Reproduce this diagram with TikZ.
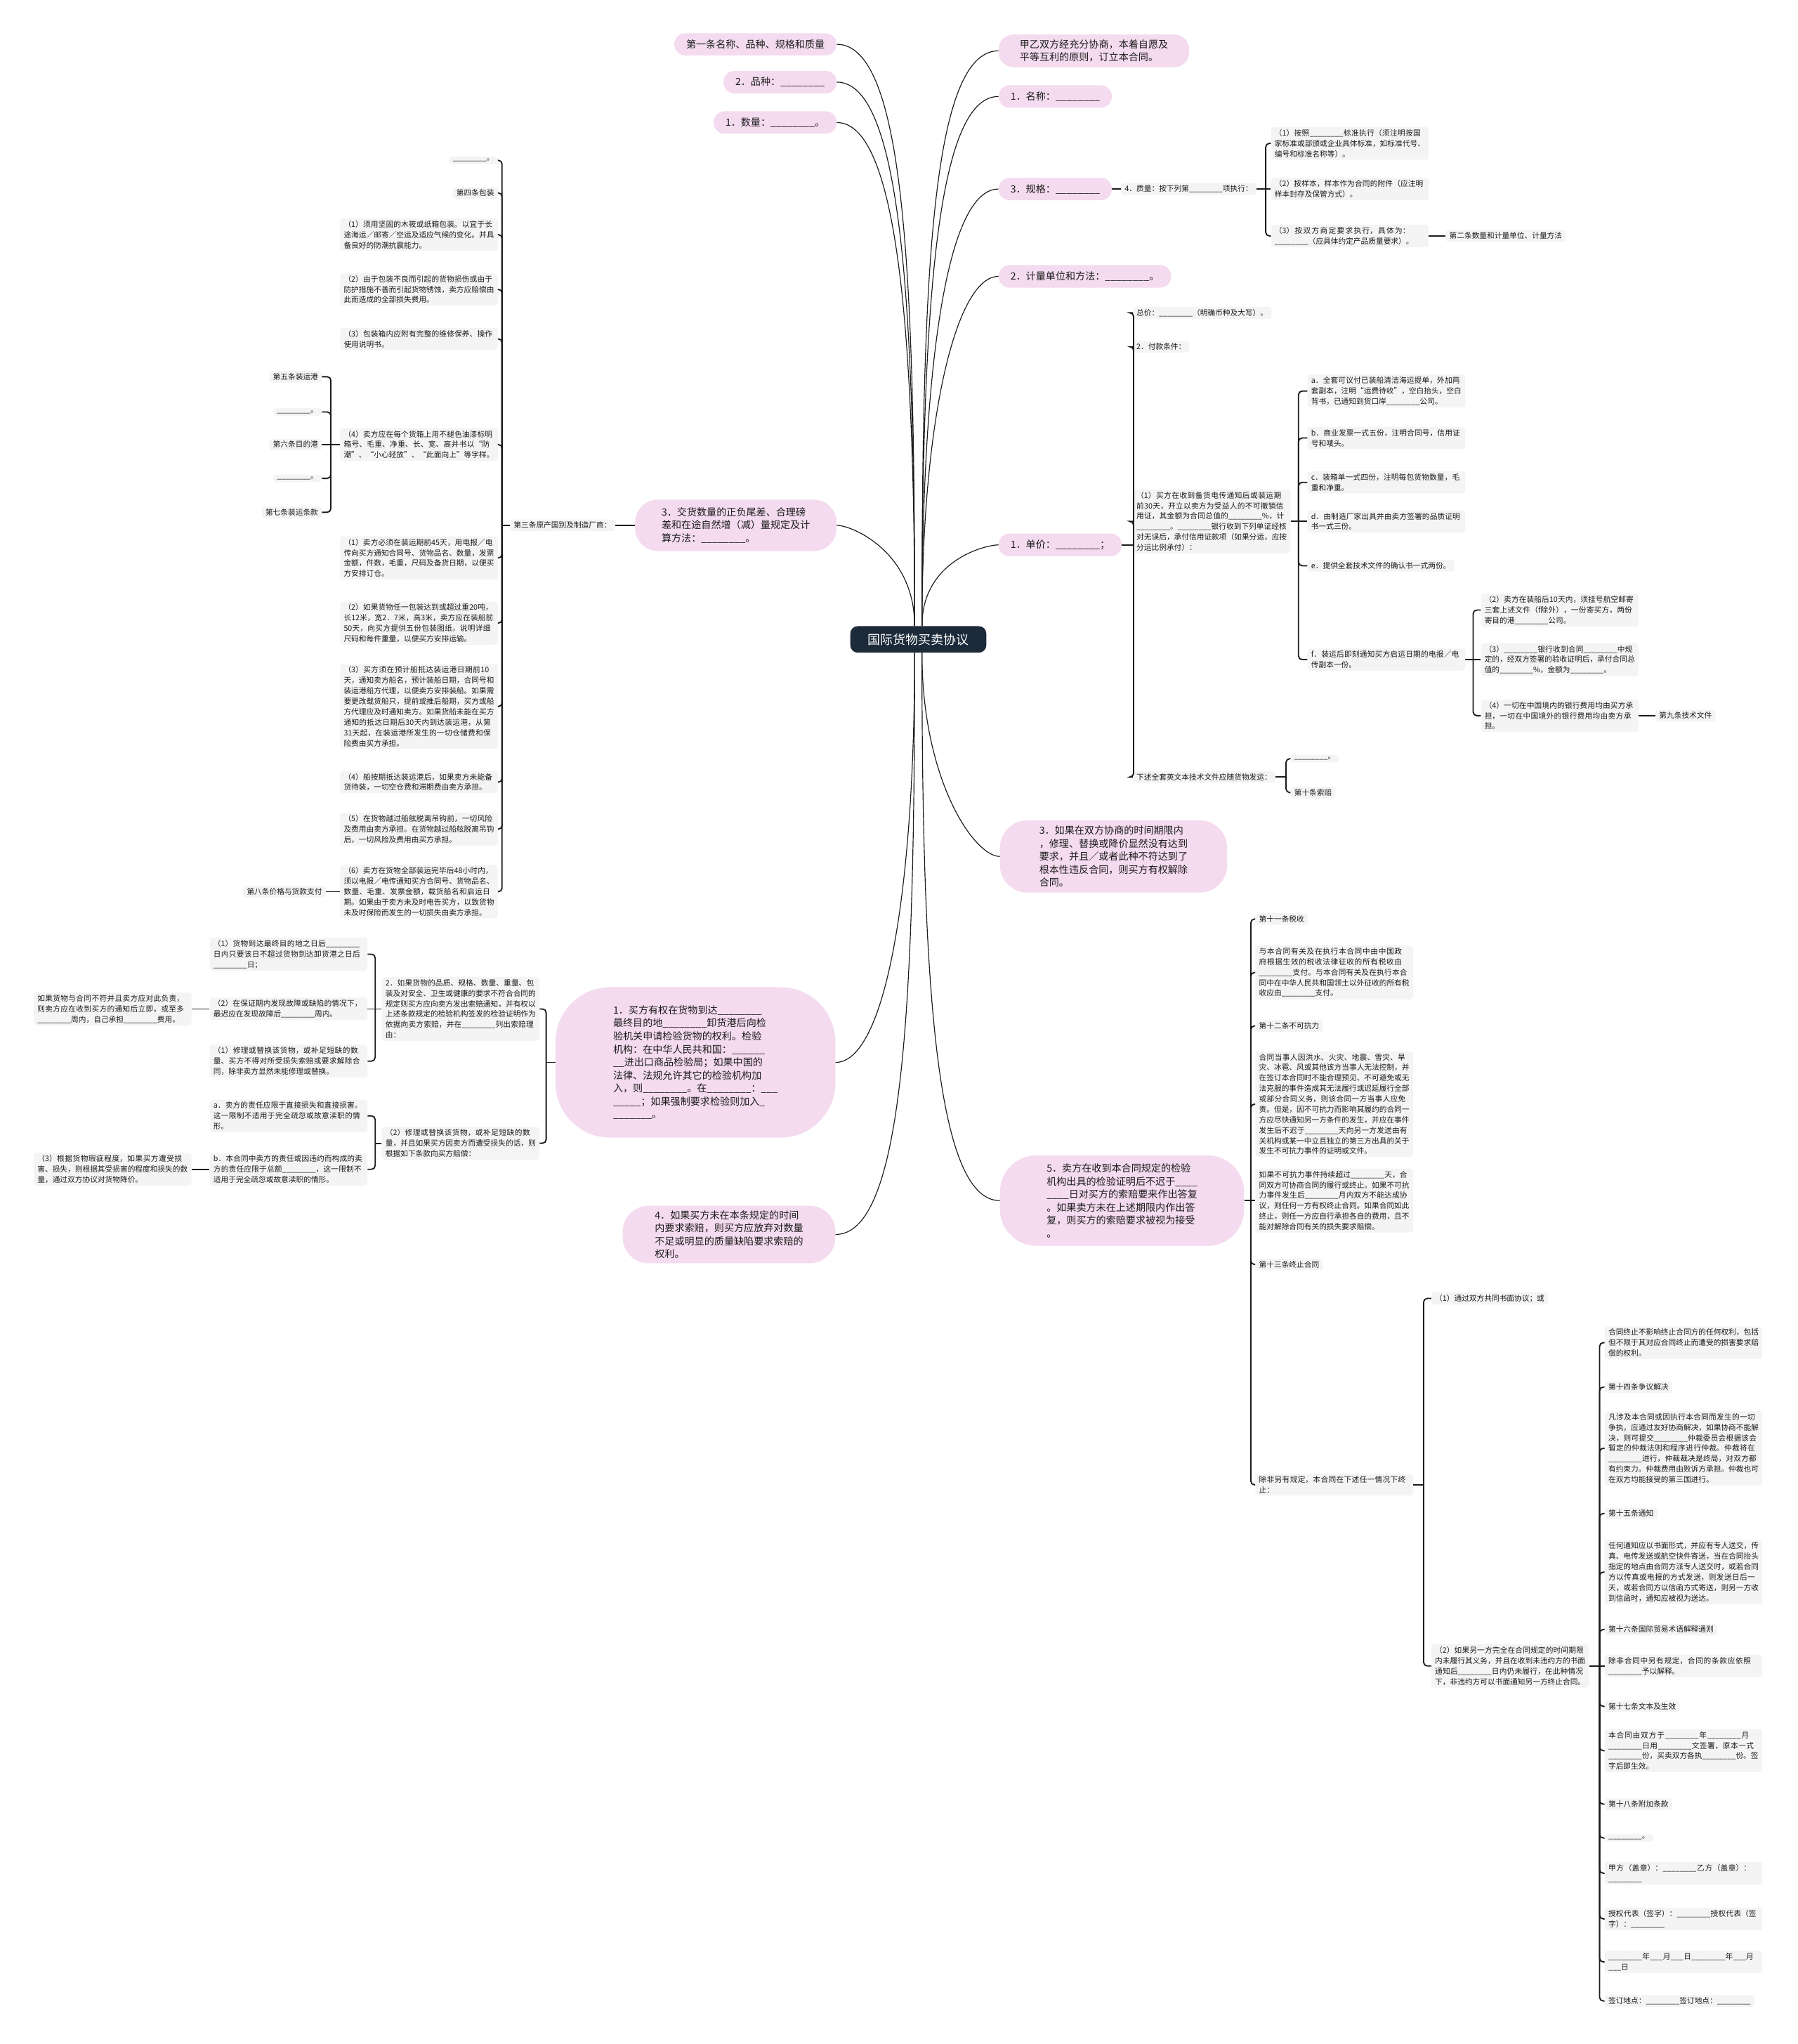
\documentclass[tikz,border=0pt]{standalone}
\usepackage{fontspec}
\setmainfont{Noto Sans CJK SC}
\usepackage{xcolor}
\usepackage{tikz}
\XeTeXlinebreaklocale "zh"
\XeTeXlinebreakskip=0pt plus 1pt
\definecolor{MapInk}{HTML}{1B1B1B}
\definecolor{RootFill}{HTML}{1C2A3A}
\definecolor{TopicFill}{HTML}{F4DBEF}
\definecolor{LeafFill}{HTML}{F4F4F4}
\newcommand{\blank}{\_\_\_\_\_\_\_\_}
\newcommand{\halfblank}{\_\_\_\_}
\tikzset{
  mapscale/.style={x=0.05cm,y=-0.05cm},
  rootbox/.style={fill=RootFill,text=white,rounded corners=8pt,inner xsep=19pt,inner ysep=8pt,
    font=\fontsize{13.8}{16}\selectfont},
  topic/.style={fill=TopicFill,text=MapInk,rounded corners=12pt,inner xsep=13pt,inner ysep=7pt,
    align=left,font=\fontsize{10.8}{14.2}\selectfont},
  leaf/.style={fill=LeafFill,text=MapInk,rounded corners=3pt,inner xsep=4pt,inner ysep=2.5pt,
    align=left,font=\fontsize{8.2}{11.4}\selectfont},
  leafwide/.style={leaf,text width=164pt},
  stem/.style={draw=MapInk,line width=0.9pt},
  upleft/.style={out=90,in=0,out looseness=1.5,in looseness=0.3},
  upright/.style={out=90,in=180,out looseness=1.5,in looseness=0.3},
  downleft/.style={out=-90,in=0,out looseness=1.5,in looseness=0.3},
  downright/.style={out=-90,in=180,out looseness=1.5,in looseness=0.3},
  fork/.style={draw=MapInk,line width=1.4pt,rounded corners=4pt},
}

\begin{document}
\begin{tikzpicture}[mapscale]
  \fill[white] (0,0) rectangle (1379,1568);
  \useasboundingbox (0,0) rectangle (1379,1568);

  \node[rootbox] (root) at (704.5,490.5) {国际货物买卖协议};

  % main topics, left
  \node[topic,anchor=east] (art1) at (642,34) {第一条名称、品种、规格和质量};
  \node[topic,anchor=east] (variety) at (642,63) {2．品种：\blank};
  \node[topic,anchor=east] (amount) at (642,94) {1．数量：\blank。};
  \node[topic,anchor=east,inner xsep=29pt,inner ysep=8.5pt,rounded corners=25pt] (tolerance) at (642,403)
    {3．交货数量的正负尾差、合理磅\\差和在途自然增（减）量规定及计\\算方法：\blank。};
  \node[topic,anchor=east,inner xsep=63pt,inner ysep=20pt,rounded corners=60pt] (inspect) at (641,815)
    {1．买方有权在货物到达\blank\\最终目的地\blank 卸货港后向检\\验机关申请检验货物的权利。检验\\
     机构：在中华人民共和国：\halfblank\_\_\\\_\_进出口商品检验局；如果中国的\\法律、法规允许其它的检验机构加\\
     入，则\blank。在\blank：\_\_\_\\\_\_\_\_\_；如果强制要求检验则加入\_\\\_\_\_\_\_\_\_。};
  \node[topic,anchor=east,inner xsep=35pt,inner ysep=5pt,rounded corners=28pt] (waive) at (641,947)
    {4．如果买方未在本条规定的时间\\内要求索赔，则买方应放弃对数量\\不足或明显的质量缺陷要求索赔的\\权利。};

  % main topics, right
  \node[topic,anchor=west,inner xsep=23pt,inner ysep=5.5pt,rounded corners=16pt] (preface) at (766,39)
    {甲乙双方经充分协商，本着自愿及\\平等互利的原则，订立本合同。};
  \node[topic,anchor=west] (name) at (766,74) {1．名称：\blank};
  \node[topic,anchor=west] (spec) at (766,145) {3．规格：\blank};
  \node[topic,anchor=west] (measure) at (766,212) {2．计量单位和方法：\blank。};
  \node[topic,anchor=west] (price) at (766,418) {1．单价：\blank；};
  \node[topic,anchor=west,inner xsep=43pt,inner ysep=6pt,rounded corners=30pt] (cancel) at (767,657)
    {3．如果在双方协商的时间期限内\\，修理、替换或降价显然没有达到\\要求，并且／或者此种不符达到了\\根本性违反合同，则买方有权解除\\合同。};
  \node[topic,anchor=west,inner xsep=51pt,inner ysep=9pt,rounded corners=40pt] (reply) at (767,921)
    {5．卖方在收到本合同规定的检验\\机构出具的检验证明后不迟于\halfblank\\\halfblank 日对买方的索赔要来作出答复\\
     。如果卖方未在上述期限内作出答\\复，则买方的索赔要求被视为接受\\。};

  \draw[stem] ([xshift=-4pt]root.north) to[upleft] (art1.east);
  \draw[stem] ([xshift=-4pt]root.north) to[upleft] (variety.east);
  \draw[stem] ([xshift=-4pt]root.north) to[upleft] (amount.east);
  \draw[stem] ([xshift=-4pt]root.north) to[upleft] (tolerance.east);
  \draw[stem] ([xshift=4pt]root.north) to[upright] (preface.west);
  \draw[stem] ([xshift=4pt]root.north) to[upright] (name.west);
  \draw[stem] ([xshift=4pt]root.north) to[upright] (spec.west);
  \draw[stem] ([xshift=4pt]root.north) to[upright] (measure.west);
  \draw[stem] ([xshift=4pt]root.north) to[upright] (price.west);
  \draw[stem] ([xshift=4pt]root.south) to[downright] (cancel.west);
  \draw[stem] ([xshift=4pt]root.south) to[downright] (reply.west);
  \draw[stem] ([xshift=-4pt]root.south) to[downleft] (inspect.east);
  \draw[stem] ([xshift=-4pt]root.south) to[downleft] (waive.east);

  % quality
  \node[leaf,anchor=west] (quality) at (860,145) {4．质量：按下列第\blank 项执行：};
  \node[leafwide,anchor=west] (q1) at (975,110) {（1）按照\blank 标准执行（须注明按国家标准或部颁或企业具体标准，如标准代号、编号和标准名称等）。};
  \node[leafwide,anchor=west] (q2) at (975,145) {（2）按样本，样本作为合同的附件（应注明样本封存及保管方式）。};
  \node[leafwide,anchor=west] (q3) at (975,181) {（3）按双方商定要求执行，具体为：\blank（应具体约定产品质量要求）。};
  \node[leaf,anchor=west] (art2) at (1109,181) {第二条数量和计量单位、计量方法};
  \draw[fork] (spec.east) -- (quality.west);
  \draw[fork] (quality.east) -- ++(7,0) coordinate (sQ);
  \foreach \c in {q1,q3} \draw[fork] (sQ) |- (\c.west);
  \draw[fork] (sQ) -- (q2.west);
  \draw[fork] (q3.east) -- (art2.west);

  % origin, packing, shipment
  \node[leaf,anchor=east] (art3) at (472,403) {第三条原产国别及制造厂商：};
  \draw[fork] (tolerance.west) -- (art3.east);
  \node[leaf,anchor=east] (pk0) at (382,123) {\blank。};
  \node[leaf,anchor=east] (pk1) at (382,148) {第四条包装};
  \node[leafwide,anchor=east] (pk2) at (382,180) {（1）须用坚固的木筱或纸箱包装。以宜于长途海运／邮寄／空运及适应气候的变化。并具备良好的防潮抗震能力。};
  \node[leafwide,anchor=east] (pk3) at (382,222) {（2）由于包装不良而引起的货物损伤或由于防护措施不善而引起货物锈蚀，卖方应赔偿由此而造成的全部损失费用。};
  \node[leafwide,anchor=east] (pk4) at (382,260) {（3）包装箱内应附有完整的维修保养、操作使用说明书。};
  \node[leafwide,anchor=east] (pk5) at (382,341) {（4）卖方应在每个货箱上用不褪色油漆标明箱号、毛重、净重、长、宽、高并书以“防潮”、“小心轻放”、“此面向上”等字样。};
  \node[leafwide,anchor=east] (sh1) at (382,428) {（1）卖方必须在装运期前45天，用电报／电传向买方通知合同号、货物品名、数量，发票金额，件数，毛重，尺码及备货日期，以便买方安排订仓。};
  \node[leafwide,anchor=east] (sh2) at (382,478) {（2）如果货物任一包装达到或超过重20吨，长12米，宽2．7米，高3米，卖方应在装船前50天，向买方提供五份包装图纸，说明详细尺码和每件重量，以便买方安排运输。};
  \node[leafwide,anchor=east] (sh3) at (382,542) {（3）买方须在预计船抵达装运港日期前10天，通知卖方船名，预计装船日期，合同号和装运港船方代理，以便卖方安排装船。如果需要更改载货船只，提前或推后船期，买方或船方代理应及时通知卖方。如果货船未能在买方通知的抵达日期后30天内到达装运港，从第31天起，在装运港所发生的一切仓储费和保险费由买方承担。};
  \node[leafwide,anchor=east] (sh4) at (382,600) {（4）船按期抵达装运港后，如果卖方未能备货待装，一切空仓费和滞期费由卖方承担。};
  \node[leafwide,anchor=east] (sh5) at (382,636) {（5）在货物越过船舷脱离吊钩前，一切风险及费用由卖方承担。在货物越过船舷脱离吊钩后，一切风险及费用由买方承担。};
  \node[leafwide,anchor=east] (sh6) at (382,684) {（6）卖方在货物全部装运完毕后48小时内，须以电报／电传通知买方合同号、货物品名、数量、毛重、发票金额，载货船名和启运日期。如果由于卖方未及时电告买方，以致货物未及时保险而发生的一切损失由卖方承担。};
  \draw[fork] (art3.west) -- ++(-6,0) coordinate (sA);
  \foreach \c in {pk0,pk1,pk2,pk3,pk4,pk5,sh1,sh2,sh3,sh4,sh5,sh6} \draw[fork] (sA) |- (\c.east);

  \node[leaf,anchor=east] (port0) at (247,289) {第五条装运港};
  \node[leaf,anchor=east] (port1) at (247,316) {\blank。};
  \node[leaf,anchor=east] (port2) at (247,341) {第六条目的港};
  \node[leaf,anchor=east] (port3) at (247,367) {\blank。};
  \node[leaf,anchor=east] (port4) at (247,393) {第七条装运条款};
  \draw[fork] (pk5.west) -- ++(-7,0) coordinate (sB);
  \foreach \c in {port0,port1,port3,port4} \draw[fork] (sB) |- (\c.east);
  \draw[fork] (sB) -- (port2.east);
  \node[leaf,anchor=east] (art8) at (250,684) {第八条价格与货款支付};
  \draw[fork] (sh6.west) -- (art8.east);

  % claims
  \node[leafwide,anchor=east] (claim) at (414,774) {2．如果货物的品质、规格、数量、重量、包装及对安全、卫生或健康的要求不符合合同的规定则买方应向卖方发出索赔通知，并有权以上述条款规定的检验机构签发的检验证明作为依据向卖方索赔，并在\blank 列出索赔理由：};
  \node[leafwide,anchor=east] (remedy) at (414,877) {（2）修理或替换该货物，或补足短缺的数量，并且如果买方因卖方而遭受损失的话，则根据如下条款向买方赔偿：};
  \draw[fork] (inspect.west) -- ++(-7,0) coordinate (sC);
  \foreach \c in {claim,remedy} \draw[fork] (sC) |- (\c.east);
  \node[leafwide,anchor=east] (cl1) at (282,732) {（1）货物到达最终目的地之日后\blank 日内只要该日不超过货物到达卸货港之日后\blank 日；};
  \node[leafwide,anchor=east] (cl2) at (282,774) {（2）在保证期内发现故障或缺陷的情况下，最迟应在发现故障后\blank 周内。};
  \node[leafwide,anchor=east] (cl3) at (282,814) {（1）修理或替换该货物，或补足短缺的数量、买方不得对所受损失索赔或要求解除合同，除非卖方显然未能修理或替换。};
  \draw[fork] (claim.west) -- ++(-5,0) coordinate (sD);
  \foreach \c in {cl1,cl3} \draw[fork] (sD) |- (\c.east);
  \draw[fork] (sD) -- (cl2.east);
  \node[leafwide,anchor=east] (duty) at (147,774) {如果货物与合同不符并且卖方应对此负责，则卖方应在收到买方的通知后立即，或至多\blank 周内，自己承担\blank 费用。};
  \draw[fork] (cl2.west) -- (duty.east);
  \node[leafwide,anchor=east] (lim1) at (282,856) {a．卖方的责任应限于直接损失和直接损害。这一限制不适用于完全疏忽或故意渎职的情形。};
  \node[leafwide,anchor=east] (lim2) at (282,897) {b．本合同中卖方的责任或因违约而构成的卖方的责任应限于总额\blank，这一限制不适用于完全疏忽或故意渎职的情形。};
  \draw[fork] (remedy.west) -- ++(-5,0) coordinate (sE);
  \foreach \c in {lim1,lim2} \draw[fork] (sE) |- (\c.east);
  \node[leafwide,anchor=east] (discount) at (147,897) {（3）根据货物瑕疵程度，如果买方遭受损害、损失，则根据其受损害的程度和损失的数量，通过双方协议对货物降价。};
  \draw[fork] (lim2.west) -- (discount.east);

  % price and payment
  \node[leaf,anchor=west] (total) at (869,240) {总价：\blank（明确币种及大写）。};
  \node[leaf,anchor=west] (terms) at (869,266) {2．付款条件：};
  \node[leafwide,anchor=west] (credit) at (869,400) {（1）买方在收到备货电传通知后或装运期前30天，开立以卖方为受益人的不可撤销信用证，其金额为合同总值的\blank\%，计\blank。\blank 银行收到下列单证经核对无误后，承付信用证款项（如果分运，应按分运比例承付）：};
  \node[leaf,anchor=west] (docs) at (869,596) {下述全套英文本技术文件应随货物发运：};
  \draw[fork] (price.east) -- ++(9,0) coordinate (sP);
  \foreach \c in {total,terms,credit,docs} \draw[fork] (sP) |- (\c.west);

  \node[leafwide,anchor=west] (fa) at (1003,300) {a．全套可议付已装船清洁海运提单，外加两套副本，注明“运费待收”，空白抬头，空白背书，已通知到货口岸\blank 公司。};
  \node[leafwide,anchor=west] (fb) at (1003,336) {b．商业发票一式五份，注明合同号，信用证号和唛头。};
  \node[leafwide,anchor=west] (fc) at (1003,370) {c．装箱单一式四份，注明每包货物数量，毛重和净重。};
  \node[leafwide,anchor=west] (fd) at (1003,400) {d．由制造厂家出具并由卖方签署的品质证明书一式三份。};
  \node[leaf,anchor=west] (fe) at (1003,434) {e．提供全套技术文件的确认书一式两份。};
  \node[leafwide,anchor=west] (ff) at (1003,506) {f．装运后即刻通知买方启运日期的电报／电传副本一份。};
  \draw[fork] (credit.east) -- ++(6,0) coordinate (sF);
  \foreach \c in {fa,fb,fc,fe,ff} \draw[fork] (sF) |- (\c.west);
  \draw[fork] (sF) -- (fd.west);

  \node[leafwide,anchor=west] (mail) at (1136,468) {（2）卖方在装船后10天内，须挂号航空邮寄三套上述文件（f除外），一份寄买方，两份寄目的港\blank 公司。};
  \node[leafwide,anchor=west] (accept) at (1136,506) {（3）\blank 银行收到合同\blank 中规定的，经双方签署的验收证明后，承付合同总值的\blank\%，金额为\blank。};
  \node[leafwide,anchor=west] (fees) at (1136,549) {（4）一切在中国境内的银行费用均由买方承担，一切在中国境外的银行费用均由卖方承担。};
  \draw[fork] (ff.east) -- ++(6,0) coordinate (sG);
  \foreach \c in {mail,fees} \draw[fork] (sG) |- (\c.west);
  \draw[fork] (sG) -- (accept.west);
  \node[leaf,anchor=west] (art9) at (1270,549) {第九条技术文件};
  \draw[fork] (fees.east) -- (art9.west);

  \node[leaf,anchor=west] (doc0) at (990,582) {\blank。};
  \node[leaf,anchor=west] (art10) at (990,608) {第十条索赔};
  \draw[fork] (docs.east) -- ++(8,0) coordinate (sH);
  \foreach \c in {doc0,art10} \draw[fork] (sH) |- (\c.west);

  % tax, force majeure, termination
  \node[leaf,anchor=west] (art11) at (963,705) {第十一条税收};
  \node[leafwide,anchor=west] (tax) at (963,746) {与本合同有关及在执行本合同中由中国政府根据生效的税收法律征收的所有税收由\blank 支付。与本合同有关及在执行本合同中在中华人民共和国领土以外征收的所有税收应由\blank 支付。};
  \node[leaf,anchor=west] (art12) at (963,787) {第十二条不可抗力};
  \node[leafwide,anchor=west] (force) at (963,847) {合同当事人因洪水、火灾、地震、雪灾、旱灾、冰雹、风或其他该方当事人无法控制，并在签订本合同时不能合理预见、不可避免或无法克服的事件造成其无法履行或迟延履行全部或部分合同义务，则该合同一方当事人应免责。但是，因不可抗力而影响其履约的合同一方应尽快通知另一方条件的发生，并应在事件发生后不迟于\blank 天向另一方发送由有关机构或某一中立且独立的第三方出具的关于发生不可抗力事件的证明或文件。};
  \node[leafwide,anchor=west] (lasting) at (963,921) {如果不可抗力事件持续超过\blank 天，合同双方可协商合同的履行或终止。如果不可抗力事件发生后\blank 月内双方不能达成协议，则任何一方有权终止合同。如果合同如此终止，则任一方应自行承担各自的费用，且不能对解除合同有关的损失要求赔偿。};
  \node[leaf,anchor=west] (art13) at (963,970) {第十三条终止合同};
  \node[leafwide,anchor=west] (ending) at (963,1139) {除非另有规定，本合同在下述任一情况下终止：};
  \draw[fork] (reply.east) -- ++(5,0) coordinate (sT);
  \foreach \c in {art11,tax,art12,force,art13,ending} \draw[fork] (sT) |- (\c.west);
  \draw[fork] (sT) -- (lasting.west);

  \node[leaf,anchor=west] (end1) at (1098,996) {（1）通过双方共同书面协议；或};
  \node[leafwide,anchor=west] (end2) at (1098,1278) {（2）如果另一方完全在合同规定的时间期限内未履行其义务，并且在收到未违约方的书面通知后\blank 日内仍未履行，在此种情况下，非违约方可以书面通知另一方终止合同。};
  \draw[fork] (ending.east) -- ++(8,0) coordinate (sU);
  \foreach \c in {end1,end2} \draw[fork] (sU) |- (\c.west);

  \node[leafwide,anchor=west] (rest1) at (1231,1030) {合同终止不影响终止合同方的任何权利，包括但不限于其对应合同终止而遭受的损害要求赔偿的权利。};
  \node[leaf,anchor=west] (art14) at (1231,1064) {第十四条争议解决};
  \node[leafwide,anchor=west] (arbitr) at (1231,1111) {凡涉及本合同或因执行本合同而发生的一切争执，应通过友好协商解决，如果协商不能解决，则可提交\blank 仲裁委员会根据该会暂定的仲裁法则和程序进行仲裁。仲裁将在\blank 进行，仲裁裁决是终局，对双方都有约束力。仲裁费用由败诉方承担。仲裁也可在双方均能接受的第三国进行。};
  \node[leaf,anchor=west] (art15) at (1231,1161) {第十五条通知};
  \node[leafwide,anchor=west] (notice) at (1231,1206) {任何通知应以书面形式，并应有专人送交，传真、电传发送或航空快件寄送，当在合同抬头指定的地点由合同方派专人送交时，或若合同方以传真或电报的方式发送，则发送日后一天，或若合同方以信函方式寄送，则另一方收到信函时，通知应被视为送达。};
  \node[leaf,anchor=west] (art16) at (1231,1250) {第十六条国际贸易术语解释通则};
  \node[leafwide,anchor=west] (incoterm) at (1231,1278) {除非合同中另有规定，合同的条款应依照\blank 予以解释。};
  \node[leaf,anchor=west] (art17) at (1231,1309) {第十七条文本及生效};
  \node[leafwide,anchor=west] (copies) at (1231,1343) {本合同由双方于\blank 年\blank 月\blank 日用\blank 文签署，原本一式\blank 份，买卖双方各执\blank 份。签字后即生效。};
  \node[leaf,anchor=west] (art18) at (1231,1384) {第十八条附加条款};
  \node[leaf,anchor=west] (extra) at (1231,1410) {\blank。};
  \node[leafwide,anchor=west] (seal) at (1231,1437) {甲方（盖章）：\blank 乙方（盖章）：\blank};
  \node[leafwide,anchor=west] (sign) at (1231,1472) {授权代表（签字）：\blank 授权代表（签字）：\blank};
  \node[leafwide,anchor=west] (date) at (1231,1505) {\blank 年\_\_\_月\_\_\_日\blank 年\_\_\_月\_\_\_日};
  \node[leaf,anchor=west] (place) at (1231,1535) {签订地点：\blank 签订地点：\blank};
  \draw[fork] (end2.east) -- ++(8,0) coordinate (sV);
  \foreach \c in {rest1,art14,arbitr,art15,notice,art16,art17,copies,art18,extra,seal,sign,date,place}
    \draw[fork] (sV) |- (\c.west);
  \draw[fork] (sV) -- (incoterm.west);
\end{tikzpicture}
\end{document}
